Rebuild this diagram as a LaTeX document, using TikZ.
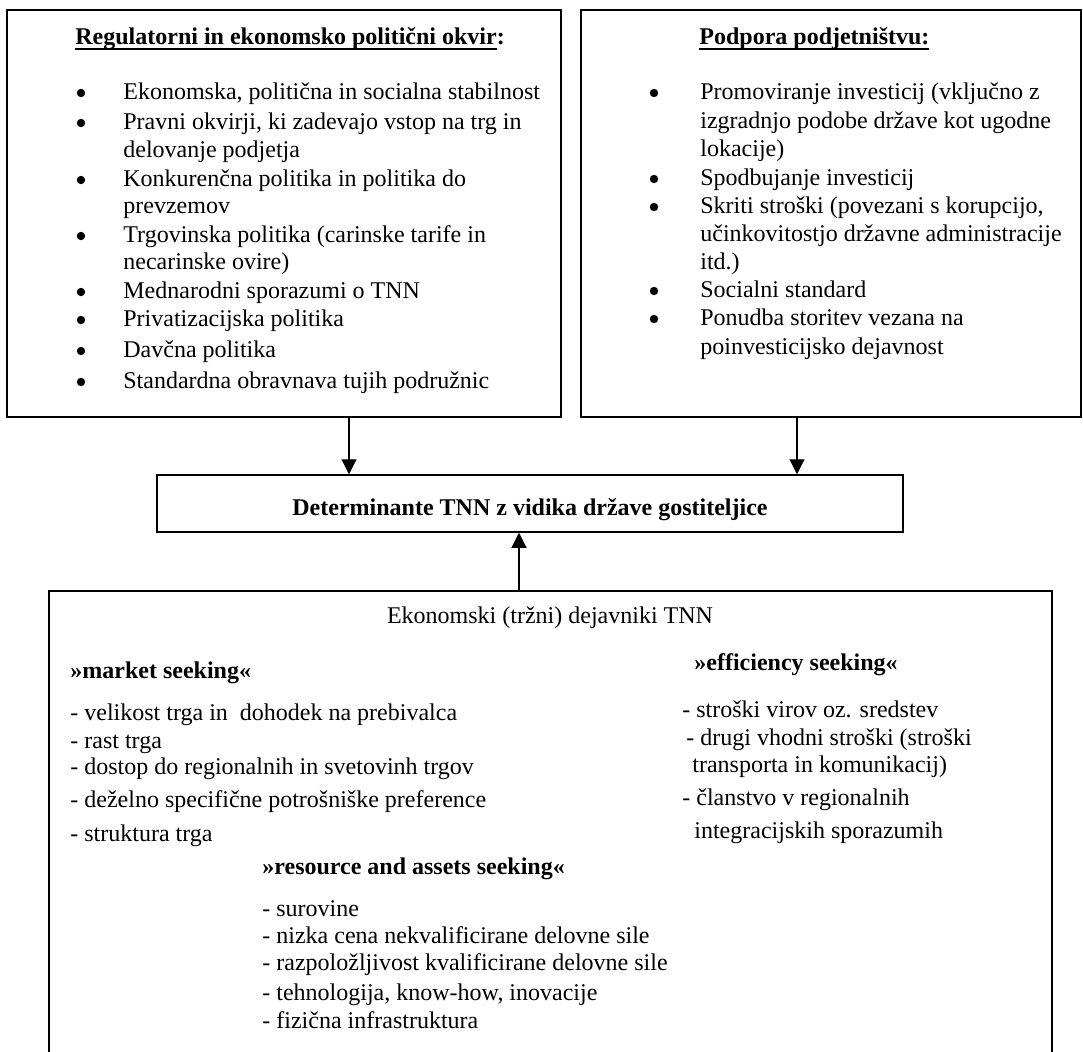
\documentclass[tikz,border=0pt]{standalone}
\usepackage{fontspec}
\setmainfont{Liberation Serif}
\usetikzlibrary{arrows.meta,fit}

\newsavebox{\ulBox}
\newcommand{\ulText}[1]{\sbox{\ulBox}{#1}\rlap{\rule[-2.8pt]{\wd\ulBox}{0.9pt}}\usebox{\ulBox}}

\begin{document}
\begin{tikzpicture}
[x=0.5pt,y=-0.5pt,
  boxDecorate/.style={draw,line width=0.75pt,inner sep=0pt},
  lineDecorate/.style={-{Triangle[length=7.5pt,width=7.5pt]},line width=0.55pt},
  textDecorate/.style={anchor=base west,inner sep=0pt,font=\fontsize{12}{14}\selectfont},
  headDecorate/.style={textDecorate,font=\fontsize{12}{14}\selectfont\bfseries},
  bulletDecorate/.style={shape=circle,fill,inner sep=0pt,minimum size=4.2pt}]
\useasboundingbox (0,0) rectangle (1083,1051);
\clip (0,0) rectangle (1083,1051);
%% boxes
\node (reg) [boxDecorate,fit={(7,10) (561,417)}] {};
\node (pod) [boxDecorate,fit={(581,10) (1081,417)}] {};
\node (det) [boxDecorate,fit={(157,475) (903,532)}] {};
\node (eko) [boxDecorate,fit={(49,591) (1052,1080)}] {};
%% regulatorni okvir
\node (regT) at (75,44) [headDecorate] {\ulText{Regulatorni in ekonomsko politični okvir}:};
\foreach \n/\y/\t in {
  1/99/{Ekonomska, politična in socialna stabilnost},
  2/129/{Pravni okvirji, ki zadevajo vstop na trg in},
  3/157/{delovanje podjetja},
  4/186/{Konkurenčna politika in politika do},
  5/213/{prevzemov},
  6/242/{Trgovinska politika (carinske tarife in},
  7/269/{necarinske ovire)},
  8/298/{Mednarodni sporazumi o TNN},
  9/326/{Privatizacijska politika},
  10/357/{Davčna politika},
  11/388/{Standardna obravnava tujih podružnic}}
{
  \node (reg\n) at (123,\y) [textDecorate] {\t};
}
\foreach \n/\y in {1/99, 2/129, 4/186, 6/242, 8/298, 9/326, 10/357, 11/388}
{
  \node (regB\n) at (81,\y-6) [bulletDecorate] {};
}
%% podpora podjetnistvu
\node (podT) at (699,44) [headDecorate] {\ulText{Podpora podjetništvu:}};
\foreach \n/\y/\t in {
  1/99/{Promoviranje investicij (vključno z},
  2/128/{izgradnjo podobe države kot ugodne},
  3/156/{lokacije)},
  4/185/{Spodbujanje investicij},
  5/213/{Skriti stroški (povezani s korupcijo,},
  6/241/{učinkovitostjo državne administracije},
  7/269/{itd.)},
  8/297/{Socialni standard},
  9/325/{Ponudba storitev vezana na},
  10/354/{poinvesticijsko dejavnost}}
{
  \node (pod\n) at (700,\y) [textDecorate] {\t};
}
\foreach \n/\y in {1/99, 4/185, 5/213, 8/297, 9/325}
{
  \node (podB\n) at (654,\y-6) [bulletDecorate] {};
}
%% determinante
\node (detT) at (530,515) [headDecorate,anchor=base] {Determinante TNN z vidika države gostiteljice};
%% ekonomski dejavniki
\node (ekoT) at (550,623) [textDecorate,anchor=base] {Ekonomski (tržni) dejavniki TNN};
\node (mkt) at (70,678) [headDecorate] {»market seeking«};
\foreach \n/\y/\t in {
  1/720/{- velikost trga in\ \ dohodek na prebivalca},
  2/748/{- rast trga},
  3/774/{- dostop do regionalnih in svetovinh trgov},
  4/807/{- deželno specifične potrošniške preference},
  5/841/{- struktura trga}}
{
  \node (mkt\n) at (70,\y) [textDecorate] {\t};
}
\node (eff) at (694,670) [headDecorate] {»efficiency seeking«};
\foreach \n/\x/\y/\t in {
  1/682/717/{- stroški virov oz. sredstev},
  2/686/745/{- drugi vhodni stroški (stroški},
  3/692/772/{transporta in komunikacij)},
  4/682/805/{- članstvo v regionalnih},
  5/694/838/{integracijskih sporazumih}}
{
  \node (eff\n) at (\x,\y) [textDecorate] {\t};
}
\node (res) at (262,874) [headDecorate] {»resource and assets seeking«};
\foreach \n/\y/\t in {
  1/916/{- surovine},
  2/943/{- nizka cena nekvalificirane delovne sile},
  3/970/{- razpoložljivost kvalificirane delovne sile},
  4/1000/{- tehnologija, know-how, inovacije},
  5/1028/{- fizična infrastruktura}}
{
  \node (res\n) at (262,\y) [textDecorate] {\t};
}
%% arrows
\coordinate (aL) at (349,0);
\coordinate (aR) at (797,0);
\coordinate (aU) at (519,0);
\draw[lineDecorate] (reg.south -| aL) -- (det.north -| aL);
\draw[lineDecorate] (pod.south -| aR) -- (det.north -| aR);
\draw[lineDecorate] (eko.north -| aU) -- (det.south -| aU);
\end{tikzpicture}
\end{document}
